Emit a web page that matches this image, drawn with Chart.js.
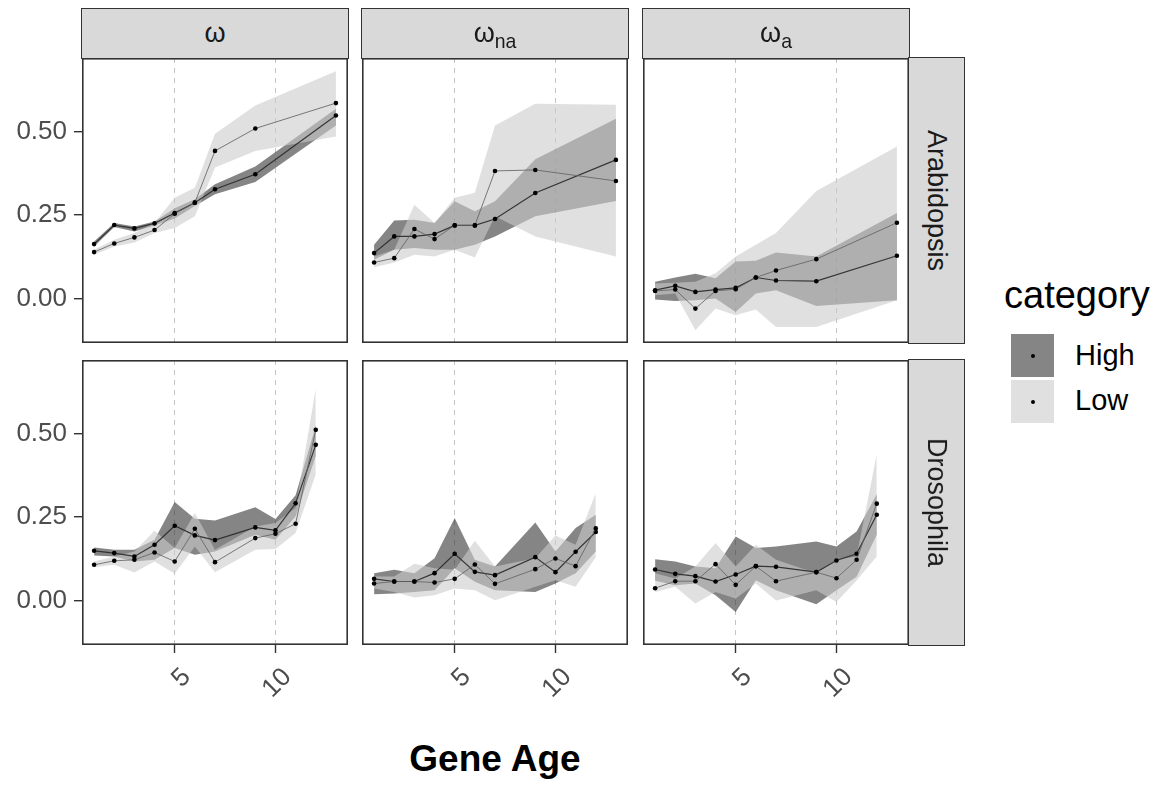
<!DOCTYPE html>
<html><head><meta charset="utf-8">
<script src="https://cdn.jsdelivr.net/npm/chart.js@4.4.1/dist/chart.umd.min.js"></script>
<style>
body{margin:0;background:#fff;}
#wrap{position:relative;width:1164px;height:790px;background:#fff;font-family:'Liberation Sans',Arial,Helvetica,sans-serif;overflow:hidden}
canvas{position:absolute}
.strip{position:absolute;background:#d9d9d9;border:1.5px solid #333;box-sizing:border-box;color:#1a1a1a;font-size:27px;display:flex;align-items:center;justify-content:center}
.strip .v{transform:rotate(90deg);white-space:nowrap;display:block}
.sub{font-size:0.72em;position:relative;top:0.3em}
.lg{position:absolute;color:#000;white-space:nowrap}
.sw{position:absolute;width:43px;height:43px}
.sw i{position:absolute;left:19.5px;top:19.5px;width:4px;height:4px;border-radius:50%;background:#000}
</style></head>
<body><div id="wrap">
<canvas id="c00"></canvas><canvas id="c01"></canvas><canvas id="c02"></canvas>
<canvas id="c10"></canvas><canvas id="c11"></canvas><canvas id="c12"></canvas>
<div class="strip" style="left:81px;top:8px;width:268px;height:51px">ω</div>
<div class="strip" style="left:361px;top:8px;width:268px;height:51px"><span>ω<span class="sub">na</span></span></div>
<div class="strip" style="left:642px;top:8px;width:268px;height:51px"><span>ω<span class="sub">a</span></span></div>
<div class="strip" style="left:908px;top:57px;width:57px;height:287px"><span class="v">Arabidopsis</span></div>
<div class="strip" style="left:908px;top:359px;width:57px;height:287px"><span class="v">Drosophila</span></div>
<div class="lg" style="left:1004px;top:274px;font-size:38px">category</div>
<div class="sw" style="left:1011px;top:334px;background:#858585"><i></i></div>
<div class="sw" style="left:1011px;top:380px;background:#e0e0e0"><i></i></div>
<div class="lg" style="left:1075px;top:339px;font-size:29px">High</div>
<div class="lg" style="left:1075px;top:384px;font-size:29px">Low</div>
<div class="lg" style="left:345px;top:738px;width:300px;text-align:center;font-size:37px;font-weight:bold">Gene Age</div>
</div>
<script>
// ---------- data ----------
const agesArab = [1,2,3,4,5,6,7,9,13];
const agesDros = [1,2,3,4,5,6,7,9,10,11,12];
const xTicks = [5,10];
const xTickLabels = ['5','10'];
const yTicks = [0,0.25,0.5];
const yTickLabels = ['0.00','0.25','0.50'];

// Arabidopsis, omega
const arabW_high   = [0.163,0.220,0.210,0.225,0.256,0.287,0.327,0.372,0.548];
const arabW_highUp = [0.171,0.226,0.216,0.231,0.270,0.297,0.342,0.395,0.568];
const arabW_highLo = [0.156,0.214,0.201,0.219,0.240,0.277,0.312,0.349,0.518];
const arabW_low    = [0.139,0.165,0.183,0.205,0.254,0.287,0.442,0.509,0.585];
const arabW_lowUp  = [0.146,0.176,0.196,0.226,0.302,0.332,0.493,0.578,0.680];
const arabW_lowLo  = [0.131,0.156,0.168,0.196,0.211,0.246,0.392,0.442,0.485];
// Arabidopsis, omega_na
const arabNa_high   = [0.136,0.186,0.186,0.193,0.219,0.219,0.238,0.316,0.415];
const arabNa_highUp = [0.161,0.234,0.236,0.226,0.291,0.261,0.291,0.417,0.538];
const arabNa_highLo = [0.116,0.146,0.151,0.146,0.146,0.161,0.186,0.246,0.292];
const arabNa_low    = [0.108,0.121,0.208,0.178,0.219,0.219,0.382,0.385,0.352];
const arabNa_lowUp  = [0.126,0.146,0.281,0.226,0.302,0.317,0.518,0.583,0.580];
const arabNa_lowLo  = [0.094,0.108,0.131,0.126,0.146,0.123,0.246,0.186,0.126];
// Arabidopsis, omega_a
const arabA_high   = [0.025,0.038,0.020,0.027,0.032,0.063,0.054,0.052,0.128];
const arabA_highUp = [0.050,0.063,0.074,0.061,0.111,0.113,0.138,0.126,0.256];
const arabA_highLo = [-0.003,-0.007,-0.005,0.000,-0.040,0.015,0.025,-0.022,-0.005];
const arabA_low    = [0.023,0.027,-0.030,0.023,0.028,0.063,0.084,0.118,0.227];
const arabA_lowUp  = [0.045,0.047,0.050,0.076,0.126,0.161,0.196,0.322,0.455];
const arabA_lowLo  = [0.010,0.015,-0.095,-0.030,-0.050,-0.033,-0.085,-0.085,-0.005];
// Drosophila, omega
const drosW_high   = [0.149,0.142,0.132,0.167,0.224,0.195,0.181,0.219,0.210,0.291,0.466];
const drosW_highUp = [0.159,0.152,0.152,0.182,0.295,0.245,0.240,0.279,0.244,0.315,0.524];
const drosW_highLo = [0.135,0.132,0.117,0.122,0.157,0.137,0.147,0.197,0.182,0.252,0.433];
const drosW_low    = [0.107,0.119,0.122,0.144,0.117,0.215,0.115,0.187,0.200,0.230,0.511];
const drosW_lowUp  = [0.117,0.132,0.147,0.209,0.157,0.262,0.152,0.222,0.232,0.277,0.634];
const drosW_lowLo  = [0.100,0.107,0.084,0.117,0.080,0.162,0.085,0.152,0.154,0.202,0.378];
// Drosophila, omega_na
const drosNa_high   = [0.065,0.057,0.057,0.082,0.140,0.086,0.076,0.130,0.085,0.146,0.205];
const drosNa_highUp = [0.082,0.092,0.082,0.127,0.247,0.122,0.102,0.234,0.147,0.217,0.257];
const drosNa_highLo = [0.019,0.021,0.026,0.031,0.097,0.056,0.031,0.026,0.051,0.082,0.147];
const drosNa_low    = [0.051,0.057,0.057,0.054,0.065,0.108,0.050,0.094,0.126,0.103,0.216];
const drosNa_lowUp  = [0.072,0.072,0.110,0.097,0.092,0.179,0.102,0.127,0.195,0.167,0.321];
const drosNa_lowLo  = [0.036,0.026,0.009,0.016,0.036,0.031,0.001,0.041,0.061,0.041,0.130];
// Drosophila, omega_a
const drosA_high   = [0.093,0.080,0.073,0.057,0.078,0.103,0.101,0.085,0.120,0.140,0.257];
const drosA_highUp = [0.124,0.117,0.102,0.097,0.192,0.157,0.162,0.177,0.162,0.207,0.318];
const drosA_highLo = [0.059,0.046,0.051,0.016,-0.034,0.061,0.031,-0.011,0.031,0.071,0.197];
const drosA_low    = [0.037,0.058,0.058,0.109,0.047,0.103,0.058,0.085,0.067,0.122,0.290];
const drosA_lowUp  = [0.082,0.066,0.102,0.172,0.102,0.167,0.122,0.082,0.122,0.132,0.438];
const drosA_lowLo  = [0.026,0.041,-0.009,0.026,0.006,0.051,0.000,0.031,-0.004,0.060,0.132];

// ---------- layout / style ----------
const FONT = "'Liberation Sans', Arial, Helvetica, sans-serif";
const HIGH_FILL = 'rgba(51,51,51,0.6)';
const LOW_FILL = 'rgba(204,204,204,0.6)';
const colLeft = [82, 362, 643];
const rowTop = [58, 360];
const PW = 266, PH = 285, YAX = 82, XAX = 80;

const panelBorder = {
  id: 'panelBorder',
  afterDraw(chart) {
    const {ctx, chartArea: a} = chart;
    ctx.save();
    ctx.strokeStyle = '#333';
    ctx.lineWidth = 1.6;
    ctx.strokeRect(a.left + 0.8, a.top + 0.8, a.right - a.left - 1.6, a.bottom - a.top - 1.6);
    ctx.restore();
  }
};

function makePanel(row, col, ages, hm, hu, hl, lm, lu, ll) {
  const showX = row === 1, showY = col === 0;
  const cv = document.getElementById('c' + row + col);
  const w = PW + (showY ? YAX : 0), h = PH + (showX ? XAX : 0);
  cv.width = w; cv.height = h;
  cv.style.left = (colLeft[col] - (showY ? YAX : 0)) + 'px';
  cv.style.top = rowTop[row] + 'px';
  cv.style.width = w + 'px'; cv.style.height = h + 'px';
  const xy = arr => arr.map((v, i) => ({x: ages[i], y: v}));
  const band = (d, fill, bg, order) => ({data: xy(d), fill: fill, backgroundColor: bg,
    borderWidth: 0, borderColor: 'rgba(0,0,0,0)', pointRadius: 0, order: order, tension: 0});
  new Chart(cv, {
    type: 'line',
    data: {datasets: [
      band(hu, '+1', HIGH_FILL, 4),
      band(hl, false, 'rgba(0,0,0,0)', 4),
      band(lu, '+1', LOW_FILL, 3),
      band(ll, false, 'rgba(0,0,0,0)', 3),
      {label: 'High', data: xy(hm), borderColor: 'rgba(40,40,40,0.9)', borderWidth: 1.2, fill: false,
       pointRadius: 2.3, pointBackgroundColor: '#000', pointBorderWidth: 0, order: 1, tension: 0},
      {label: 'Low', data: xy(lm), borderColor: 'rgba(100,100,100,0.85)', borderWidth: 1, fill: false,
       pointRadius: 2.3, pointBackgroundColor: '#000', pointBorderWidth: 0, order: 0, tension: 0}
    ]},
    options: {
      responsive: false, animation: false, events: [],
      layout: {padding: 0, autoPadding: false},
      plugins: {legend: {display: false}, tooltip: {enabled: false}},
      scales: {
        x: {
          type: 'linear', min: 0.4, max: 13.6,
          afterBuildTicks: s => { s.ticks = xTicks.map(v => ({value: v})); },
          afterFit: s => { s.height = showX ? XAX : 0; s.paddingLeft = 0; s.paddingRight = 0; },
          ticks: {display: showX, autoSkip: false, minRotation: 45, maxRotation: 45,
                  font: {family: FONT, size: 26}, color: '#4d4d4d', padding: 9, labelOffset: 12,
                  callback: (v, i) => xTickLabels[i]},
          grid: {drawOnChartArea: true, drawTicks: showX, tickLength: 8, color: '#c4c4c4', lineWidth: 1,
                 tickColor: '#333', tickWidth: 1.4, tickBorderDash: []},
          border: {display: false, dash: [5, 5]}
        },
        y: {
          type: 'linear', min: -0.133, max: 0.72, display: showY,
          afterBuildTicks: s => { s.ticks = yTicks.map(v => ({value: v})); },
          afterFit: s => { s.width = showY ? YAX : 0; s.paddingTop = 0; s.paddingBottom = 0; },
          ticks: {autoSkip: false, font: {family: FONT, size: 26}, color: '#4d4d4d', padding: 7,
                  callback: (v, i) => yTickLabels[i]},
          grid: {drawOnChartArea: false, drawTicks: true, tickLength: 8, color: '#333', lineWidth: 1.4},
          border: {display: false}
        }
      }
    },
    plugins: [panelBorder]
  });
}

makePanel(0, 0, agesArab, arabW_high, arabW_highUp, arabW_highLo, arabW_low, arabW_lowUp, arabW_lowLo);
makePanel(0, 1, agesArab, arabNa_high, arabNa_highUp, arabNa_highLo, arabNa_low, arabNa_lowUp, arabNa_lowLo);
makePanel(0, 2, agesArab, arabA_high, arabA_highUp, arabA_highLo, arabA_low, arabA_lowUp, arabA_lowLo);
makePanel(1, 0, agesDros, drosW_high, drosW_highUp, drosW_highLo, drosW_low, drosW_lowUp, drosW_lowLo);
makePanel(1, 1, agesDros, drosNa_high, drosNa_highUp, drosNa_highLo, drosNa_low, drosNa_lowUp, drosNa_lowLo);
makePanel(1, 2, agesDros, drosA_high, drosA_highUp, drosA_highLo, drosA_low, drosA_lowUp, drosA_lowLo);
</script>
</body></html>
